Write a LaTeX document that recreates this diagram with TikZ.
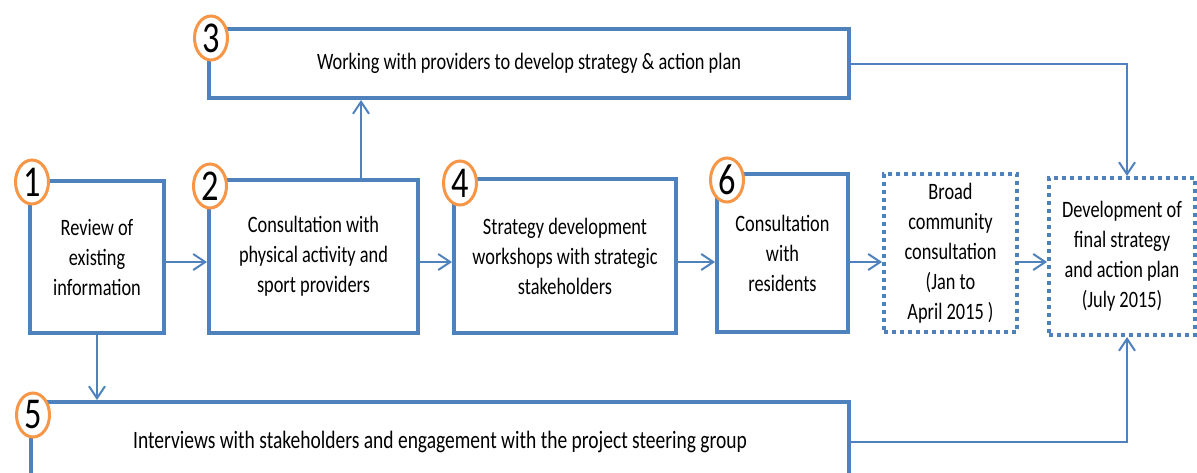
\documentclass[tikz,border=0pt]{standalone}
\usepackage{fontspec}
\setmainfont{Carlito}[FakeStretch=0.78]
\usetikzlibrary{shapes.geometric, arrows.meta}
\definecolor{boxblue}{RGB}{79,129,189}
\definecolor{numorange}{RGB}{247,150,70}

\begin{document}
\begin{tikzpicture}[x=0.5pt, y=-0.5pt]
\tikzstyle{box} = [draw=boxblue, line width=2pt, align=center, inner sep=0pt, font=\fontsize{11.75}{15}\selectfont]
\tikzstyle{dotbox} = [box, dash pattern=on 2pt off 2pt]
\tikzstyle{num} = [ellipse, draw=numorange, line width=1.5pt, fill=white, minimum width=16.5pt, minimum height=22pt, inner sep=0pt, font=\fontsize{22}{22}\selectfont]
\tikzstyle{arrow} = [draw=boxblue, line width=1pt, -{Straight Barb[length=6pt, width=8pt]}]

\useasboundingbox (0,0) rectangle (1197,472);
\clip (0,0) rectangle (1197,472);

\node [box, minimum width=67pt, minimum height=76pt] (review) at (97,257) {Review of\\existing\\information};
\node [box, minimum width=104.5pt, minimum height=76.5pt] (providers) at (313.5,256.5) {Consultation with\\physical activity and\\sport providers};
\node [box, minimum width=320pt, minimum height=34.5pt] (working) at (529,63.5) {Working with providers to develop strategy \& action plan};
\node [box, minimum width=111pt, minimum height=77pt] (workshops) at (565,256) {Strategy development\\workshops with strategic\\stakeholders};
\node [box, minimum width=65.5pt, minimum height=79pt] (residents) at (782.5,253) {Consultation\\with\\residents};
\node [dotbox, minimum width=66.5pt, minimum height=79pt] (broad) at (950.5,253) {Broad\\community\\consultation\\(Jan to\\April 2015 )};
\node [dotbox, minimum width=73pt, minimum height=78.5pt] (final) at (1122,256.5) {Development  of\\final strategy\\and action plan\\(July 2015)};
\node [box, minimum width=409pt, minimum height=40pt, font=\fontsize{12.5}{15}\selectfont] (interviews) at (440,442) {Interviews with stakeholders and engagement with the project steering group};

\node [num] (n1) at (32,182) {1};
\node [num] (n2) at (210,186) {2};
\node [num] (n3) at (211,38) {3};
\node [num] (n4) at (460,183) {4};
\node [num] (n5) at (33,415) {5};
\node [num] (n6) at (727,180) {6};

\coordinate (row) at (0,262);
\coordinate (up) at (361,0);
\coordinate (drop) at (1127,0);

\draw [arrow] (review.east |- row) -- (providers.west |- row);
\draw [arrow] (providers.east |- row) -- (workshops.west |- row);
\draw [arrow] (workshops.east |- row) -- (residents.west |- row);
\draw [arrow] (residents.east |- row) -- (broad.west |- row);
\draw [arrow] (broad.east |- row) -- (final.west |- row);
\draw [arrow] (providers.north -| up) -- (working.south -| up);
\draw [arrow] (review.south) -- (interviews.north -| review.south);
\draw [arrow] (working.east) -| (drop |- final.north);
\draw [arrow] (interviews.east) -| (drop |- final.south);
\end{tikzpicture}
\end{document}
